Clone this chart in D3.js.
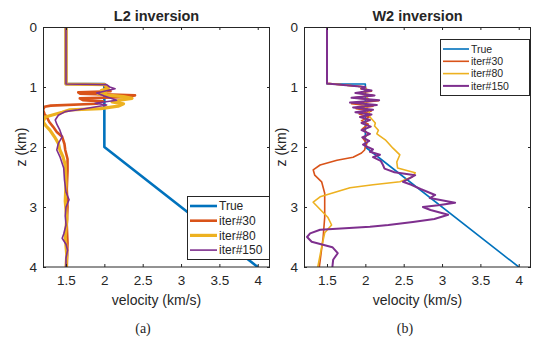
<!DOCTYPE html>
<html>
<head>
<meta charset="utf-8">
<script src="https://cdn.jsdelivr.net/npm/d3@7"></script>
<style>
  body { margin: 0; background: #fff; }
  svg { display: block; }
  text { font-family: "Liberation Sans", Arial, sans-serif; fill: #262626; }
</style>
</head>
<body>
<div id="chart"></div>
<script>
// [depth z (km), velocity v (km/s)]
var trueModel = [[0,1.5],[0.95,1.5],[0.95,2.0],[2.0,2.0],[4.0,4.0]];

var l2Iter30 = [[0,1.5],[0.95,1.5],[0.955,2.0],[1.02,2.02],[1.07,2.08],[1.09,1.66],[1.11,1.68],[1.14,2.4],[1.17,2.22],
  [1.19,1.68],[1.22,1.72],[1.24,1.98],[1.28,1.9],[1.31,1.3],[1.33,1.22],[1.38,1.2],[1.45,1.22],[1.5,1.25],[1.58,1.28],
  [1.66,1.33],[1.75,1.38],[1.83,1.45],[1.95,1.48],[2.05,1.49],[2.2,1.52],[2.4,1.52],[2.7,1.51],[3.0,1.52],[3.3,1.51],
  [3.6,1.52],[4.0,1.51]];
var l2Iter80 = [[0,1.5],[0.95,1.5],[0.96,2.0],[1.02,2.05],[1.06,1.96],[1.09,2.02],[1.12,1.92],[1.16,2.25],[1.19,2.36],
  [1.22,2.2],[1.25,2.1],[1.28,2.25],[1.32,2.18],[1.36,1.95],[1.38,1.55],[1.42,1.45],[1.5,1.23],[1.58,1.2],[1.65,1.24],
  [1.72,1.29],[1.83,1.35],[1.94,1.4],[2.05,1.42],[2.16,1.46],[2.3,1.49],[2.6,1.5],[2.9,1.49],[3.2,1.51],[3.5,1.49],
  [3.8,1.51],[4.0,1.5]];
var l2Iter150 = [[0,1.5],[0.95,1.5],[0.96,2.03],[1.0,2.07],[1.03,2.14],[1.1,1.9],[1.15,2.0],[1.22,2.16],[1.27,1.88],
  [1.3,2.03],[1.38,1.66],[1.41,1.49],[1.47,1.4],[1.55,1.36],[1.62,1.38],[1.72,1.42],[1.83,1.45],[1.94,1.4],[2.05,1.38],
  [2.16,1.42],[2.35,1.47],[2.55,1.48],[2.75,1.5],[2.88,1.54],[3.0,1.5],[3.15,1.49],[3.3,1.5],[3.45,1.47],[3.52,1.45],
  [3.62,1.5],[3.72,1.52],[3.85,1.5],[4.0,1.5]];

var w2Iter30 = [[0,1.5],[0.94,1.5],[1.0,2.0],[1.03,1.94],[1.07,2.08],[1.1,1.9],[1.14,2.1],[1.18,1.85],[1.23,2.17],
  [1.28,1.82],[1.32,2.1],[1.36,1.88],[1.4,2.08],[1.45,1.92],[1.5,2.05],[1.56,1.95],[1.62,2.04],[1.7,1.96],[1.78,2.04],
  [1.86,1.97],[1.94,2.02],[2.0,2.0],[2.05,1.99],[2.1,1.95],[2.17,1.84],[2.22,1.63],[2.3,1.41],[2.38,1.32],[2.47,1.34],
  [2.58,1.43],[2.77,1.47],[3.17,1.47],[3.5,1.45],[4.0,1.40]];
var w2Iter80 = [[0,1.5],[0.94,1.5],[1.0,2.0],[1.05,2.02],[1.1,1.96],[1.2,2.04],[1.3,1.97],[1.4,2.05],[1.5,2.06],
  [1.6,2.13],[1.65,2.12],[1.72,2.17],[1.78,2.15],[1.88,2.26],[2.02,2.36],[2.13,2.45],[2.25,2.41],[2.35,2.42],
  [2.43,2.65],[2.5,2.61],[2.58,2.45],[2.63,2.1],[2.68,1.8],[2.83,1.41],[2.92,1.32],[3.0,1.38],[3.17,1.51],[3.3,1.56],
  [3.43,1.47],[3.67,1.43],[4.0,1.38]];
var w2Iter150 = [[0,1.5],[0.94,1.5],[1.0,2.0],[1.03,1.95],[1.06,2.08],[1.1,1.87],[1.14,2.12],[1.18,1.82],[1.22,2.18],
  [1.26,1.8],[1.3,2.15],[1.34,1.84],[1.38,2.1],[1.42,1.87],[1.46,2.08],[1.5,1.93],[1.55,2.06],[1.6,1.95],[1.66,2.07],
  [1.72,1.95],[1.78,2.06],[1.84,1.96],[1.9,2.05],[1.96,1.97],[2.0,2.03],[2.04,2.1],[2.08,2.06],[2.13,2.19],[2.17,2.1],
  [2.23,2.2],[2.3,2.23],[2.36,2.25],[2.42,2.38],[2.47,2.65],[2.52,2.58],[2.58,2.49],[2.63,2.6],[2.7,2.72],[2.8,2.91],
  [2.85,2.84],[2.93,3.17],[2.97,2.95],[3.0,2.75],[3.05,2.85],[3.13,3.08],[3.2,2.9],[3.25,2.62],[3.3,2.3],[3.33,2.06],
  [3.38,1.41],[3.44,1.28],[3.5,1.24],[3.58,1.30],[3.67,1.57],[3.77,1.64],[3.88,1.58],[4.0,1.57]];

var seriesNames = ["True", "iter#30", "iter#80", "iter#150"];
var colors = ["#0072BD", "#D95319", "#EDB120", "#7E2F8E"];
var xTicks = [1.5, 2, 2.5, 3, 3.5, 4];
var yTicks = [0, 1, 2, 3, 4];

var W = 533, H = 341;
var svg = d3.select("#chart").append("svg").attr("width", W).attr("height", H);

function panel(opt) {
  var x = d3.scaleLinear().domain([1.2, 4.16]).range([opt.left, opt.left + 227]);
  var y = d3.scaleLinear().domain([0, 4]).range([27, 267]);
  var g = svg.append("g");

  var clipId = "clip" + opt.tag;
  g.append("clipPath").attr("id", clipId).append("rect")
    .attr("x", x.range()[0]).attr("y", 27).attr("width", 227).attr("height", 240);

  var line = d3.line().x(function(d) { return x(d[1]); }).y(function(d) { return y(d[0]); });
  var lines = g.append("g").attr("clip-path", "url(#" + clipId + ")");
  opt.series.forEach(function(s, i) {
    lines.append("path").datum(s)
      .attr("d", line)
      .attr("fill", "none")
      .attr("stroke", colors[i])
      .attr("stroke-width", opt.widths[i])
      .attr("stroke-linejoin", "round");
  });

  // box with inward ticks, MATLAB style
  function styleAxis(sel) {
    sel.select(".domain").remove();
    sel.selectAll(".tick line").attr("stroke", "#262626");
    sel.selectAll("text").style("font-size", "13.5px").style("font-family", "'Liberation Sans', Arial, sans-serif").attr("fill", "#262626");
  }
  g.append("g").attr("transform", "translate(0,267)")
    .call(d3.axisBottom(x).tickValues(xTicks).tickSize(-3).tickPadding(8.5).tickFormat(d3.format("")))
    .call(styleAxis);
  g.append("g").attr("transform", "translate(0,27)")
    .call(d3.axisTop(x).tickValues(xTicks).tickSize(-3).tickFormat(""))
    .call(styleAxis);
  g.append("g").attr("transform", "translate(" + x.range()[0] + ",0)")
    .call(d3.axisLeft(y).tickValues(yTicks).tickSize(-3).tickPadding(6).tickFormat(d3.format("")))
    .call(styleAxis);
  g.append("g").attr("transform", "translate(" + x.range()[1] + ",0)")
    .call(d3.axisRight(y).tickValues(yTicks).tickSize(-3).tickFormat(""))
    .call(styleAxis);
  g.append("rect")
    .attr("x", x.range()[0] + 0.5).attr("y", 27.5).attr("width", 226).attr("height", 239.5)
    .attr("fill", "none").attr("stroke", "#262626").attr("stroke-width", 1);

  var cx = (x.range()[0] + x.range()[1]) / 2;
  g.append("text").attr("x", cx).attr("y", 21).attr("text-anchor", "middle")
    .style("font-size", "14.5px").style("font-weight", "bold").attr("fill", "#000").text(opt.title);
  g.append("text").attr("x", cx).attr("y", 305).attr("text-anchor", "middle")
    .style("font-size", "14px").text("velocity (km/s)");
  g.append("text").attr("transform", "translate(" + opt.zx + ",147) rotate(-90)").attr("text-anchor", "middle")
    .style("font-size", "14px").text("z (km)");
  g.append("text").attr("x", opt.capX).attr("y", 333).attr("text-anchor", "middle")
    .style("font-family", "'Liberation Serif', 'Times New Roman', serif").style("font-size", "14px")
    .attr("fill", "#000").text(opt.caption);

  // legend
  var L = opt.legend;
  var lg = g.append("g");
  lg.append("rect").attr("x", L.x + 0.5).attr("y", L.y + 0.5).attr("width", L.w).attr("height", L.h)
    .attr("fill", "#fff").attr("stroke", "#262626").attr("stroke-width", 1);
  seriesNames.forEach(function(name, i) {
    var ry = L.y + L.first + i * L.step;
    lg.append("line").attr("x1", L.x + 3).attr("x2", L.x + 3 + L.lineLen).attr("y1", ry).attr("y2", ry)
      .attr("stroke", colors[i]).attr("stroke-width", opt.widths[i]);
    lg.append("text").attr("x", L.x + 5 + L.lineLen).attr("y", ry).attr("dy", "0.35em")
      .style("font-size", L.font + "px").attr("fill", "#000").text(name);
  });
}

panel({
  tag: "a", left: 43, title: "L2 inversion", caption: "(a)", capX: 143, zx: 26,
  series: [trueModel, l2Iter30, l2Iter80, l2Iter150],
  widths: [2.6, 2.6, 3.2, 1.6],
  legend: { x: 187, y: 196, w: 82, h: 63, first: 10, step: 14.7, lineLen: 27, font: 12 }
});
panel({
  tag: "b", left: 304, title: "W2 inversion", caption: "(b)", capX: 405, zx: 286,
  series: [trueModel, w2Iter30, w2Iter80, w2Iter150],
  widths: [1.6, 1.6, 1.6, 2],
  legend: { x: 440, y: 39, w: 89, h: 56, first: 10, step: 12.3, lineLen: 26, font: 10.5 }
});
</script>
</body>
</html>
